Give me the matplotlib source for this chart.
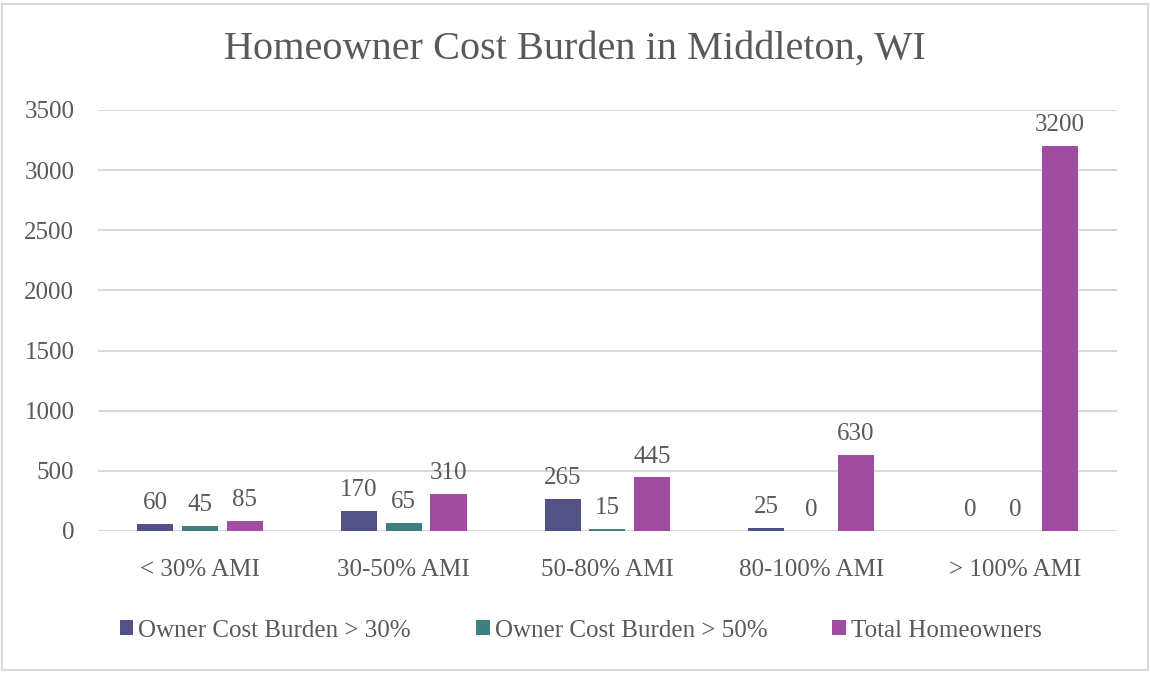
import matplotlib
matplotlib.use("Agg")
import matplotlib.pyplot as plt
import numpy as np
from matplotlib.patches import Rectangle

categories = ["< 30% AMI", "30-50% AMI", "50-80% AMI", "80-100% AMI", "> 100% AMI"]
series_names = ["Owner Cost Burden > 30%", "Owner Cost Burden > 50%", "Total Homeowners"]
burden30 = [60, 170, 265, 25, 0]
burden50 = [45, 65, 15, 0, 0]
total = [85, 310, 445, 630, 3200]
yticks = [0, 500, 1000, 1500, 2000, 2500, 3000, 3500]
colors = ["#525287", "#3f7f80", "#a04ca0"]

plt.rcParams['font.family'] = ['Liberation Serif', 'DejaVu Serif']
txt = "#595959"

fig = plt.figure(figsize=(11.5, 6.73), dpi=100)
ax = fig.add_axes([0.0852, 0.211, 0.886, 0.6256])

x = np.arange(len(categories))
w = 0.177
step = 0.22
for i, (vals, c) in enumerate(zip([burden30, burden50, total], colors)):
    pos = x + (i - 1) * step
    ax.bar(pos, vals, width=w, color=c, label=series_names[i], zorder=3)
    for p, v in zip(pos, vals):
        ax.annotate(str(v), (p, v), xytext=(0, 7), textcoords="offset points",
                    ha="center", va="bottom", fontsize=18, color=txt)

ax.set_xlim(-0.5, len(categories) - 0.5)
ax.set_ylim(0, 3500)
ax.set_yticks(yticks)
ax.set_yticklabels([str(t) for t in yticks], fontsize=18, color=txt)
ax.set_xticks(x)
ax.set_xticklabels(categories, fontsize=18, color=txt)
ax.tick_params(axis="both", length=0)
ax.tick_params(axis="y", pad=17)
ax.tick_params(axis="x", pad=20)
ax.grid(axis="y", color="#d9d9d9", lw=1.5, zorder=0)
for s in ax.spines.values():
    s.set_visible(False)

fig.suptitle("Homeowner Cost Burden in Middleton, WI", y=0.955, fontsize=29, color=txt)

fig.legend(loc="center", bbox_to_anchor=(0.505, 0.063), ncol=3, frameon=False,
           fontsize=18, handlelength=0.55, handleheight=0.55, handletextpad=0.2,
           columnspacing=2.6, labelcolor=txt)

fig.patches.append(Rectangle((0.002, 0.004), 0.996, 0.99, transform=fig.transFigure,
                             fill=False, edgecolor="#d9d9d9", lw=1.5))

fig.savefig("out.png", dpi=100, facecolor="white")
